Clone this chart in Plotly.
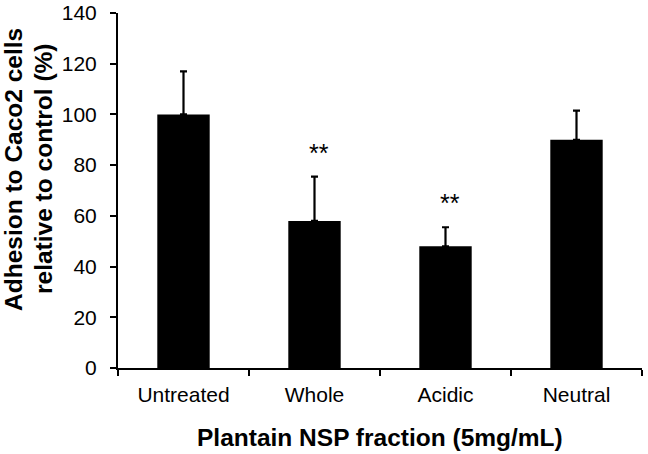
import plotly.graph_objects as go

categories = ["Untreated", "Whole", "Acidic", "Neutral"]
values = [100, 58, 48, 90]
errors = [17, 17.5, 7.5, 11.5]
significance = ["", "**", "**", ""]
y_ticks = [0, 20, 40, 60, 80, 100, 120, 140]
y_title_lines = ["Adhesion to Caco2 cells", "relative to control (%)"]
x_title = "Plantain NSP fraction (5mg/mL)"

FONT = "Liberation Sans, Arial, sans-serif"

fig = go.Figure()
fig.add_trace(go.Bar(
    x=categories, y=values,
    marker=dict(color="black", line=dict(width=0)),
    width=0.40,
    error_y=dict(type="data", array=errors, symmetric=False, arrayminus=[0]*4,
                 color="black", thickness=2.2, width=3.5),
))

for c, v, e, s in zip(categories, values, errors, significance):
    if s:
        fig.add_annotation(x=c, y=v + e, text=s, showarrow=False, yshift=24, xshift=4,
                           yanchor="middle",
                           font=dict(family=FONT, size=25, color="black"))

# y-axis title, two tightly spaced lines
for xp, line in zip([-0.1985, -0.1412], y_title_lines):
    fig.add_annotation(xref="paper", yref="paper", x=xp, y=0.5606, text=f"<b>{line}</b>",
                       textangle=-90, showarrow=False, xanchor="center", yanchor="middle",
                       font=dict(family=FONT, size=24.5, color="black"))

fig.add_annotation(xref="paper", yref="paper", x=0.5, y=-0.197, text=f"<b>{x_title}</b>",
                   showarrow=False, xanchor="center", yanchor="middle",
                   font=dict(family=FONT, size=24.5, color="black"))

fig.update_layout(
    width=648, height=454,
    margin=dict(l=118, r=6, t=13, b=86),
    plot_bgcolor="white", paper_bgcolor="white",
    showlegend=False,
    font=dict(family=FONT, color="black"),
    xaxis=dict(
        type="category", range=[-0.5, 3.5], automargin=False,
        showline=True, linecolor="black", linewidth=2,
        ticks="outside", tickson="boundaries", ticklen=6, tickwidth=2, tickcolor="black",
        tickfont=dict(size=21), ticklabelstandoff=7,
        showgrid=False,
    ),
    yaxis=dict(
        range=[0, 140], tickvals=y_ticks, automargin=False,
        showline=True, linecolor="black", linewidth=2,
        ticks="outside", ticklen=6, tickwidth=2, tickcolor="black",
        tickfont=dict(size=21), ticklabelstandoff=9,
        showgrid=False, zeroline=False,
    ),
)

fig.write_html("out.html", config={"displayModeBar": False},
               post_script="document.body.style.margin='0';")
